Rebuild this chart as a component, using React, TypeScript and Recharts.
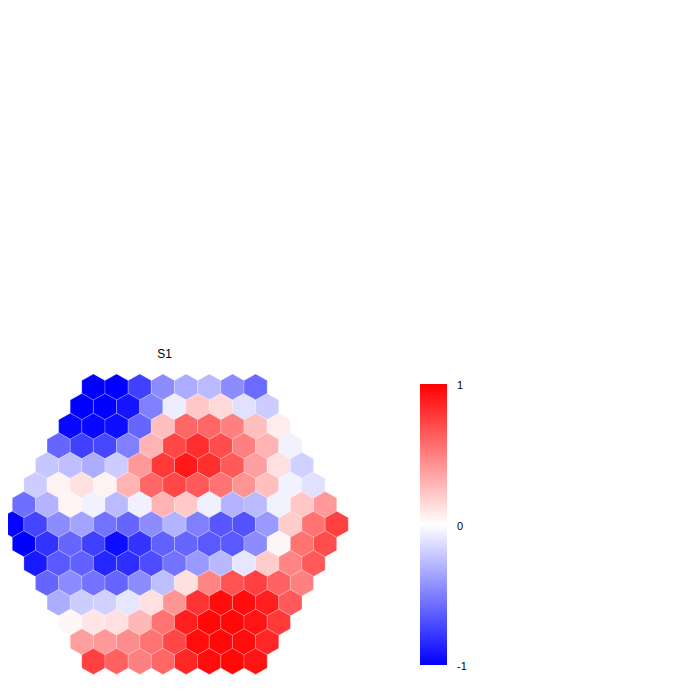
import React from "react";
import { ScatterChart, Scatter, XAxis, YAxis, Customized } from "recharts";

// Hexagonal map values, row by row (top to bottom)
const row01 = [-1, -1, -0.75, -0.45, -0.33, -0.27, -0.45, -0.58];
const row02 = [-1, -1, -0.92, -0.5, -0.07, 0.22, 0.15, -0.12, -0.2];
const row03 = [-0.97, -0.97, -0.95, -0.6, 0.25, 0.6, 0.6, 0.5, 0.25, 0.07];
const row04 = [-0.6, -0.75, -0.72, -0.5, 0.3, 0.72, 0.82, 0.7, 0.5, 0.3, -0.05];
const row05 = [-0.22, -0.25, -0.32, -0.2, 0.4, 0.78, 0.9, 0.82, 0.65, 0.38, 0.12, -0.18];
const row06 = [-0.2, 0.05, 0.12, 0.05, 0.3, 0.6, 0.72, 0.65, 0.55, 0.42, 0.25, -0.05, -0.12];
const row07 = [-0.57, -0.3, 0.04, -0.05, -0.27, -0.06, 0.3, 0.21, -0.06, -0.3, -0.27, -0.05, 0.22, 0.4];
const row08 = [-0.98, -0.73, -0.45, -0.36, -0.55, -0.6, -0.45, -0.3, -0.5, -0.66, -0.68, -0.4, 0.2, 0.55, 0.75];
const row09 = [-1, -0.8, -0.6, -0.75, -0.95, -0.8, -0.62, -0.6, -0.65, -0.65, -0.45, 0.03, 0.55, 0.7];
const row10 = [-0.9, -0.65, -0.62, -0.85, -0.82, -0.7, -0.55, -0.4, -0.28, -0.1, 0.2, 0.48, 0.65];
const row11 = [-0.6, -0.45, -0.55, -0.6, -0.45, -0.25, 0.12, 0.48, 0.68, 0.75, 0.62, 0.5];
const row12 = [-0.32, -0.2, -0.18, -0.1, 0.12, 0.42, 0.8, 0.95, 0.95, 0.88, 0.65];
const row13 = [0.03, 0.1, 0.12, 0.28, 0.55, 0.88, 0.97, 0.97, 0.92, 0.78];
const row14 = [0.38, 0.4, 0.45, 0.55, 0.72, 0.95, 0.97, 0.95, 0.85];
const row15 = [0.75, 0.62, 0.5, 0.6, 0.85, 0.95, 0.97, 0.92];

const rows = [row01, row02, row03, row04, row05, row06, row07, row08, row09, row10, row11, row12, row13, row14, row15];

const title = "S1";
const colorbarTicks = [1, 0, -1];

type Cell = { x: number; y: number; v: number };
const cells: Cell[] = [];
rows.forEach((r, ri) => {
  const n = r.length;
  r.forEach((v, i) => {
    cells.push({ x: i - (n - 1) / 2, y: ri, v });
  });
});

const W = 700;
const H = 700;
const margin = { top: 379, right: 371.3, bottom: 46.6, left: 4.3 };
const plotW = W - margin.left - margin.right;
const plotH = H - margin.top - margin.bottom;
const unitX = plotW / 14;
const unitY = plotH / 14;
const halfW = unitX / 2;
const rTop = unitY / 1.5;

function colorOf(v: number): string {
  const c = Math.max(-1, Math.min(1, v));
  if (c < 0) {
    const t = Math.round(255 * (1 + c));
    return `rgb(${t},${t},255)`;
  }
  const t = Math.round(255 * (1 - c));
  return `rgb(255,${t},${t})`;
}

const Hex = (props: any) => {
  const { cx, cy, payload } = props;
  if (cx == null || cy == null) return null;
  const pts = [
    [cx, cy - rTop],
    [cx + halfW, cy - rTop / 2],
    [cx + halfW, cy + rTop / 2],
    [cx, cy + rTop],
    [cx - halfW, cy + rTop / 2],
    [cx - halfW, cy - rTop / 2],
  ]
    .map((p) => p.join(","))
    .join(" ");
  return (
    <polygon
      points={pts}
      fill={colorOf(payload.v)}
      stroke="#ffffff"
      strokeOpacity={0.4}
      strokeWidth={0.6}
    />
  );
};

const bar = { x: 412, y: 376, w: 27, h: 281 };

const Extras = () => (
  <g>
    <text
      x={margin.left + plotW / 2 - 10}
      y={350}
      textAnchor="middle"
      fontFamily="Liberation Sans, Arial, sans-serif"
      fontSize={12}
      fill="#000"
    >
      {title}
    </text>
    <defs>
      <linearGradient id="cbar" x1="0" y1="0" x2="0" y2="1">
        <stop offset="0%" stopColor={colorOf(1)} />
        <stop offset="50%" stopColor={colorOf(0)} />
        <stop offset="100%" stopColor={colorOf(-1)} />
      </linearGradient>
    </defs>
    <rect x={bar.x} y={bar.y} width={bar.w} height={bar.h} fill="url(#cbar)" />
    {colorbarTicks.map((t) => (
      <text
        key={t}
        x={bar.x + bar.w + 10}
        y={bar.y + ((1 - t) / 2) * bar.h + 5}
        fontFamily="Liberation Sans, Arial, sans-serif"
        fontSize={11}
        fill="#000"
      >
        {t}
      </text>
    ))}
  </g>
);

export default function App() {
  return (
    <ScatterChart width={W} height={H} margin={margin}>
      <XAxis type="number" dataKey="x" domain={[-7, 7]} hide />
      <YAxis type="number" dataKey="y" domain={[0, 14]} reversed hide />
      <Scatter data={cells} shape={<Hex />} isAnimationActive={false} />
      <Customized component={<Extras />} />
    </ScatterChart>
  );
}
